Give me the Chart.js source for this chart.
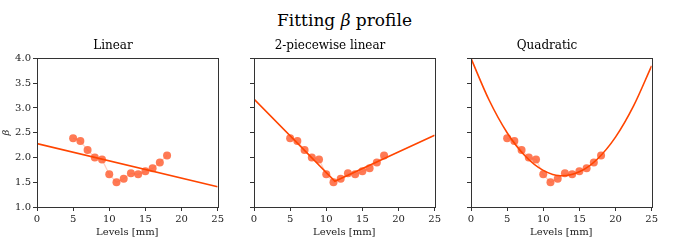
<!DOCTYPE html>
<html>
<head>
<meta charset="utf-8">
<script src="https://cdn.jsdelivr.net/npm/chart.js@4/dist/chart.umd.min.js"></script>
<style>
  body { margin: 0; background: #fff; width: 689px; height: 243px; position: relative; overflow: hidden; }
  #suptitle { position: absolute; top: 10px; left: 0; width: 689px; text-align: center;
    font-family: "DejaVu Serif", serif; font-size: 17px; color: #000; }
  .panel { position: absolute; top: 39px; height: 199px; }
</style>
</head>
<body>
<div id="suptitle">Fitting <i>β</i> profile</div>
<div class="panel" style="left:0px;width:226px"><canvas id="c1"></canvas></div>
<div class="panel" style="left:217px;width:226px"><canvas id="c2"></canvas></div>
<div class="panel" style="left:434px;width:226px"><canvas id="c3"></canvas></div>
<script>
// measured beta profile
const levels = [5, 6, 7, 8, 9, 10, 11, 12, 13, 14, 15, 16, 17, 18];
const beta = [2.39, 2.33, 2.15, 2.0, 1.96, 1.66, 1.5, 1.57, 1.68, 1.66, 1.72, 1.78, 1.9, 2.04];

// fitted curves
const linearX = [0, 25];
const linearY = [2.28, 1.41];
const pieceX = [0, 11.2, 25];
const pieceY = [3.18, 1.52, 2.45];
const quadX = [0, 2.5, 5, 7.5, 10, 12.5, 15, 17.5, 20, 22.5, 25];
const quadY = [4.0, 3.16, 2.5, 2.03, 1.74, 1.63, 1.71, 1.97, 2.41, 3.04, 3.85];

const xTicks = [0, 5, 10, 15, 20, 25];
const yTicks = [1.0, 1.5, 2.0, 2.5, 3.0, 3.5, 4.0];

const panels = [
  {id: 'c1', title: 'Linear', fx: linearX, fy: linearY, yLabels: true},
  {id: 'c2', title: '2-piecewise linear', fx: pieceX, fy: pieceY, yLabels: false},
  {id: 'c3', title: 'Quadratic', fx: quadX, fy: quadY, yLabels: false}
];

const serif = '"DejaVu Serif", serif';
const toXY = (xs, ys) => xs.map((x, i) => ({x: x, y: ys[i]}));

// box around the plot area, like matplotlib spines
const frame = {
  id: 'frame',
  afterDraw(chart) {
    const a = chart.chartArea, ctx = chart.ctx;
    ctx.save();
    ctx.strokeStyle = '#333';
    ctx.lineWidth = 1;
    ctx.strokeRect(Math.round(a.left) + 0.5, Math.round(a.top) + 0.5,
      Math.round(a.right - a.left), Math.round(a.bottom - a.top));
    ctx.restore();
  }
};

panels.forEach(function(p) {
  const ctx = document.getElementById(p.id).getContext('2d');
  new Chart(ctx, {
    type: 'scatter',
    data: {
      datasets: [
        {
          data: toXY(p.fx, p.fy),
          showLine: true,
          borderColor: '#ff4500',
          borderWidth: 1.6,
          pointRadius: 0,
          fill: false,
          clip: true,
          cubicInterpolationMode: p.fx.length > 3 ? 'monotone' : 'default',
          order: 0
        },
        {
          data: toXY(levels, beta),
          showLine: true,
          borderColor: 'rgba(255,99,55,0.3)',
          borderWidth: 1.2,
          pointRadius: 4,
          pointBorderWidth: 0,
          pointBackgroundColor: 'rgba(255,99,55,0.85)',
          order: 1
        }
      ]
    },
    options: {
      responsive: true,
      maintainAspectRatio: false,
      animation: false,
      layout: {padding: {left: 0, right: 0, top: 0, bottom: 0}},
      plugins: {
        legend: {display: false},
        tooltip: {enabled: false},
        title: {
          display: true,
          text: p.title,
          color: '#000',
          font: {family: serif, size: 12, weight: 'normal'},
          padding: {top: 0, bottom: 5}
        }
      },
      scales: {
        x: {
          type: 'linear',
          min: 0, max: 25,
          afterBuildTicks: function(s) { s.ticks = xTicks.map(v => ({value: v})); },
          afterFit: function(s) { s.height = 31; },
          grid: {drawOnChartArea: false, drawTicks: true, tickLength: 4, color: '#333'},
          border: {color: '#333'},
          ticks: {color: '#222', font: {family: serif, size: 10}, padding: 2, maxRotation: 0},
          title: {display: true, text: 'Levels [mm]', color: '#222', font: {family: serif, size: 10}, padding: {top: 0, bottom: 0}}
        },
        y: {
          type: 'linear',
          min: 1, max: 4,
          afterBuildTicks: function(s) { s.ticks = yTicks.map(v => ({value: v})); },
          afterFit: function(s) { s.width = 37; },
          grid: {drawOnChartArea: false, drawTicks: true, tickLength: 4, color: '#333'},
          border: {color: '#333'},
          ticks: {
            display: true,
            color: p.yLabels ? '#222' : 'rgba(0,0,0,0)',
            font: {family: serif, size: 10},
            padding: 2,
            callback: v => v.toFixed(1)
          },
          title: {display: p.yLabels, text: 'β', color: '#222', font: {family: serif, size: 10, style: 'italic'}, padding: {top: 0, bottom: 4}}
        }
      }
    },
    plugins: [frame]
  });
});
</script>
</body>
</html>
